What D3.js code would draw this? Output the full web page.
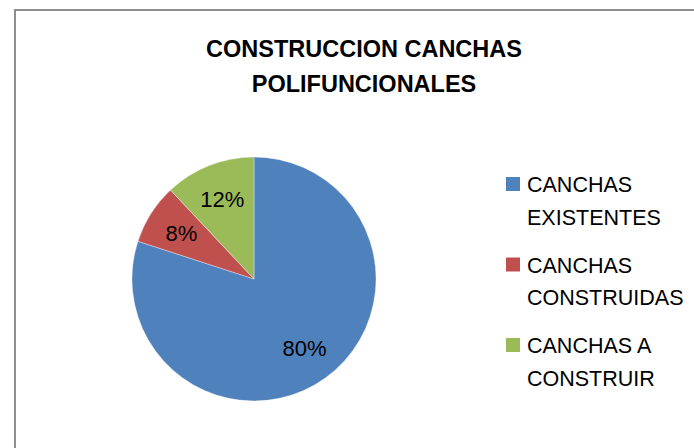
<!DOCTYPE html>
<html>
<head>
<meta charset="utf-8">
<script src="https://cdn.jsdelivr.net/npm/d3@7"></script>
<style>
  html, body { margin: 0; padding: 0; background: #fff; }
  svg { display: block; }
  text { font-family: "Liberation Sans", Arial, sans-serif; fill: #000; }
</style>
</head>
<body>
<svg id="chart" width="694" height="448"></svg>
<script>
const titleLines = ["CONSTRUCCION CANCHAS", "POLIFUNCIONALES"];
const categories = ["CANCHAS EXISTENTES", "CANCHAS CONSTRUIDAS", "CANCHAS A CONSTRUIR"];
const values = [80, 8, 12];
const colors = ["#4F81BD", "#C0504D", "#9BBB59"];

const svg = d3.select("#chart");

// chart area border
svg.append("rect")
  .attr("x", 15).attr("y", 10)
  .attr("width", 700).attr("height", 460)
  .attr("fill", "#fff")
  .attr("stroke", "#8e8e8e")
  .attr("stroke-width", 2);

// title
svg.append("g").selectAll("text")
  .data(titleLines)
  .join("text")
  .attr("x", 364)
  .attr("y", (d, i) => 57 + i * 35)
  .attr("text-anchor", "middle")
  .style("font-weight", "bold")
  .style("font-size", "23.5px")
  .text(d => d);

// pie
const cx = 254, cy = 279, r = 122;
const color = d3.scaleOrdinal().domain(categories).range(colors);
const pie = d3.pie().sort(null).value(d => d.value).startAngle(0);
const data = categories.map((c, i) => ({ cat: c, value: values[i] }));
const arcs = pie(data);
const arc = d3.arc().innerRadius(0).outerRadius(r);
const labelArc = d3.arc().innerRadius(86).outerRadius(86);
const total = d3.sum(values);

const g = svg.append("g").attr("transform", `translate(${cx},${cy})`);
g.selectAll("path")
  .data(arcs)
  .join("path")
  .attr("d", arc)
  .attr("fill", d => color(d.data.cat))
  .attr("stroke", "#ffffff")
  .attr("stroke-width", 0.6)
  .attr("stroke-opacity", 0.6);

g.selectAll("text.lbl")
  .data(arcs)
  .join("text")
  .attr("class", "lbl")
  .attr("transform", d => `translate(${labelArc.centroid(d)})`)
  .attr("text-anchor", "middle")
  .attr("dy", "0.36em")
  .style("font-size", "22px")
  .text(d => d3.format(".0%")(d.data.value / total));

// legend
const legend = svg.append("g");
const entryY = [192, 272.5, 353];
categories.forEach((c, i) => {
  const eg = legend.append("g").attr("transform", `translate(0,${entryY[i]})`);
  eg.append("rect")
    .attr("x", 506).attr("y", -15)
    .attr("width", 14).attr("height", 14)
    .attr("fill", color(c));
  const t = eg.append("text")
    .attr("x", 527).attr("y", 0)
    .style("font-size", "21.5px");
  // wrap words within max width
  const words = c.split(" ");
  let lines = [], cur = [];
  const maxW = 160;
  words.forEach(w => {
    const test = cur.concat([w]).join(" ");
    t.text(test);
    if (t.node().getComputedTextLength() > maxW && cur.length) {
      lines.push(cur.join(" "));
      cur = [w];
    } else {
      cur.push(w);
    }
  });
  if (cur.length) lines.push(cur.join(" "));
  t.text(null);
  t.selectAll("tspan")
    .data(lines)
    .join("tspan")
    .attr("x", 527)
    .attr("y", (d, j) => j * 32.5)
    .text(d => d);
});
</script>
</body>
</html>
